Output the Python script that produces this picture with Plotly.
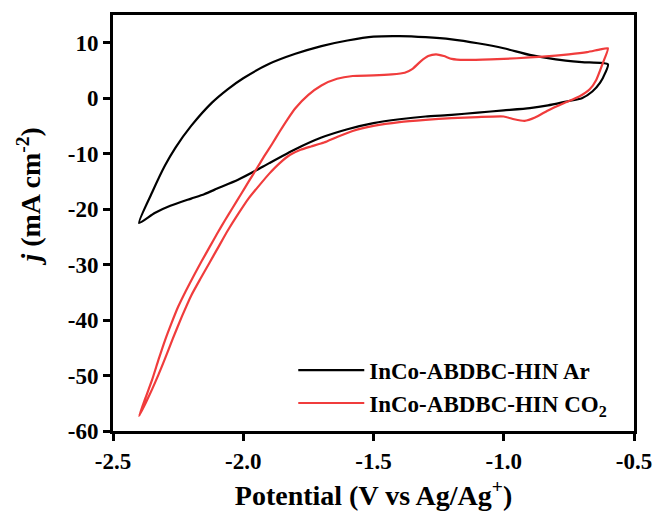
import plotly.graph_objects as go

# InCo-ABDBC-HIN in Ar (closed CV loop)
ar_v = [-0.60, -0.70, -0.80, -0.90, -1.00, -1.10, -1.20, -1.30, -1.40, -1.50, -1.60, -1.70,
        -1.80, -1.90, -2.00, -2.06, -2.12, -2.20, -2.26, -2.30, -2.35, -2.40,
        -2.34, -2.28, -2.20, -2.15, -2.10, -2.02, -1.95, -1.90, -1.80, -1.70, -1.60, -1.50,
        -1.40, -1.30, -1.20, -1.10, -1.00, -0.90, -0.83, -0.76, -0.70, -0.66, -0.63, -0.61, -0.60]
ar_j = [6.1, 6.5, 7.0, 7.8, 9.0, 9.9, 10.6, 11.0, 11.2, 11.1, 10.4, 9.4,
        8.0, 6.2, 3.6, 1.6, -0.8, -5.0, -8.9, -12.1, -17.0, -22.5,
        -20.7, -19.4, -18.1, -17.3, -16.3, -14.7, -13.0, -11.7, -9.2, -7.1, -5.6, -4.5,
        -3.8, -3.3, -3.0, -2.6, -2.2, -1.8, -1.3, -0.6, 0.0, 1.2, 2.8, 4.6, 6.1]

# InCo-ABDBC-HIN in CO2 (closed CV loop)
co2_v = [-0.60, -0.63, -0.68, -0.75, -0.85, -0.95, -1.05, -1.15, -1.20, -1.23, -1.26, -1.29,
         -1.32, -1.35, -1.38, -1.43, -1.50, -1.58, -1.64, -1.70, -1.75, -1.80, -1.83, -1.86,
         -1.89, -1.92, -1.95, -1.98, -2.01, -2.04, -2.07, -2.10, -2.13, -2.16, -2.19, -2.22,
         -2.25, -2.275, -2.30, -2.325, -2.35, -2.375, -2.40,
         -2.375, -2.35, -2.325, -2.30, -2.27, -2.235, -2.20, -2.165, -2.13, -2.095, -2.06,
         -2.02, -1.98, -1.94, -1.90, -1.86, -1.82, -1.78, -1.74, -1.69, -1.64, -1.58,
         -1.50, -1.40, -1.30, -1.20, -1.10, -1.00, -0.96, -0.92, -0.88,
         -0.83, -0.77, -0.71, -0.67, -0.645, -0.62, -0.60]
co2_j = [9.0, 8.8, 8.3, 7.9, 7.5, 7.2, 7.0, 6.9, 7.1, 7.6, 7.9, 7.6,
         6.6, 5.3, 4.6, 4.3, 4.1, 4.0, 3.5, 2.3, 0.6, -1.8, -3.8, -6.0,
         -8.3, -10.5, -12.8, -15.1, -17.4, -19.7, -22.0, -24.4, -26.9, -29.4, -32.0, -34.7,
         -37.6, -40.5, -43.6, -47.1, -50.8, -54.0, -57.3,
         -55.0, -52.5, -49.8, -46.9, -43.3, -39.3, -35.6, -32.6, -29.7, -26.8, -23.9,
         -20.9, -18.1, -15.8, -13.6, -11.7, -10.2, -9.3, -8.7, -8.0, -7.0, -5.9,
         -5.0, -4.3, -3.9, -3.6, -3.4, -3.3, -3.8, -4.1, -3.5,
         -2.2, -0.9, 0.3, 1.6, 3.3, 6.3, 9.0]

x_ticks = [-2.5, -2.0, -1.5, -1.0, -0.5]
y_ticks = [10, 0, -10, -20, -30, -40, -50, -60]

FONT = "Times New Roman, Liberation Serif, serif"

fig = go.Figure()
fig.add_trace(go.Scatter(x=ar_v, y=ar_j, mode="lines", name="InCo-ABDBC-HIN Ar",
                         line=dict(color="#000000", width=2.2, shape="spline", smoothing=0.6),
                         legendgroup="a"))
fig.add_trace(go.Scatter(x=co2_v, y=co2_j, mode="lines", name="InCo-ABDBC-HIN CO<sub>2</sub>",
                         line=dict(color="#f03c3c", width=2.2, shape="spline", smoothing=0.5),
                         legendgroup="b"))

axis_common = dict(showline=True, linecolor="black", linewidth=3, mirror=True,
                   ticks="outside", ticklen=7, tickwidth=3, tickcolor="black",
                   showgrid=False, zeroline=False,
                   tickfont=dict(family=FONT, size=23, color="black", weight="bold"))

fig.update_layout(
    width=664, height=518,
    margin=dict(l=113, r=22, t=14, b=81),
    paper_bgcolor="white", plot_bgcolor="white",
    font=dict(family=FONT, color="black"),
    xaxis=dict(range=[-2.5, -0.5], tickvals=x_ticks,
               ticktext=[f"{v:.1f}" for v in x_ticks],
               title=dict(text="Potential (V vs Ag/Ag<sup>+</sup>)", standoff=13,
                          font=dict(family=FONT, size=28, color="black", weight="bold")),
               **axis_common),
    yaxis=dict(range=[-60, 15], tickvals=y_ticks, ticktext=[str(v) for v in y_ticks],
               **axis_common),
    legend=dict(x=0.346, y=0.198, xanchor="left", yanchor="top", bgcolor="rgba(0,0,0,0)",
                font=dict(family=FONT, size=23, color="black", weight="bold"),
                itemwidth=66, tracegroupgap=0),
    showlegend=True,
    annotations=[dict(text="<i>j</i> (mA cm<sup>-2</sup>)", textangle=-90,
                      xref="paper", yref="paper", x=-0.16, y=0.565,
                      xanchor="center", yanchor="middle", showarrow=False,
                      font=dict(family=FONT, size=28, color="black", weight="bold"))],
)

fig.write_html("out.html")
